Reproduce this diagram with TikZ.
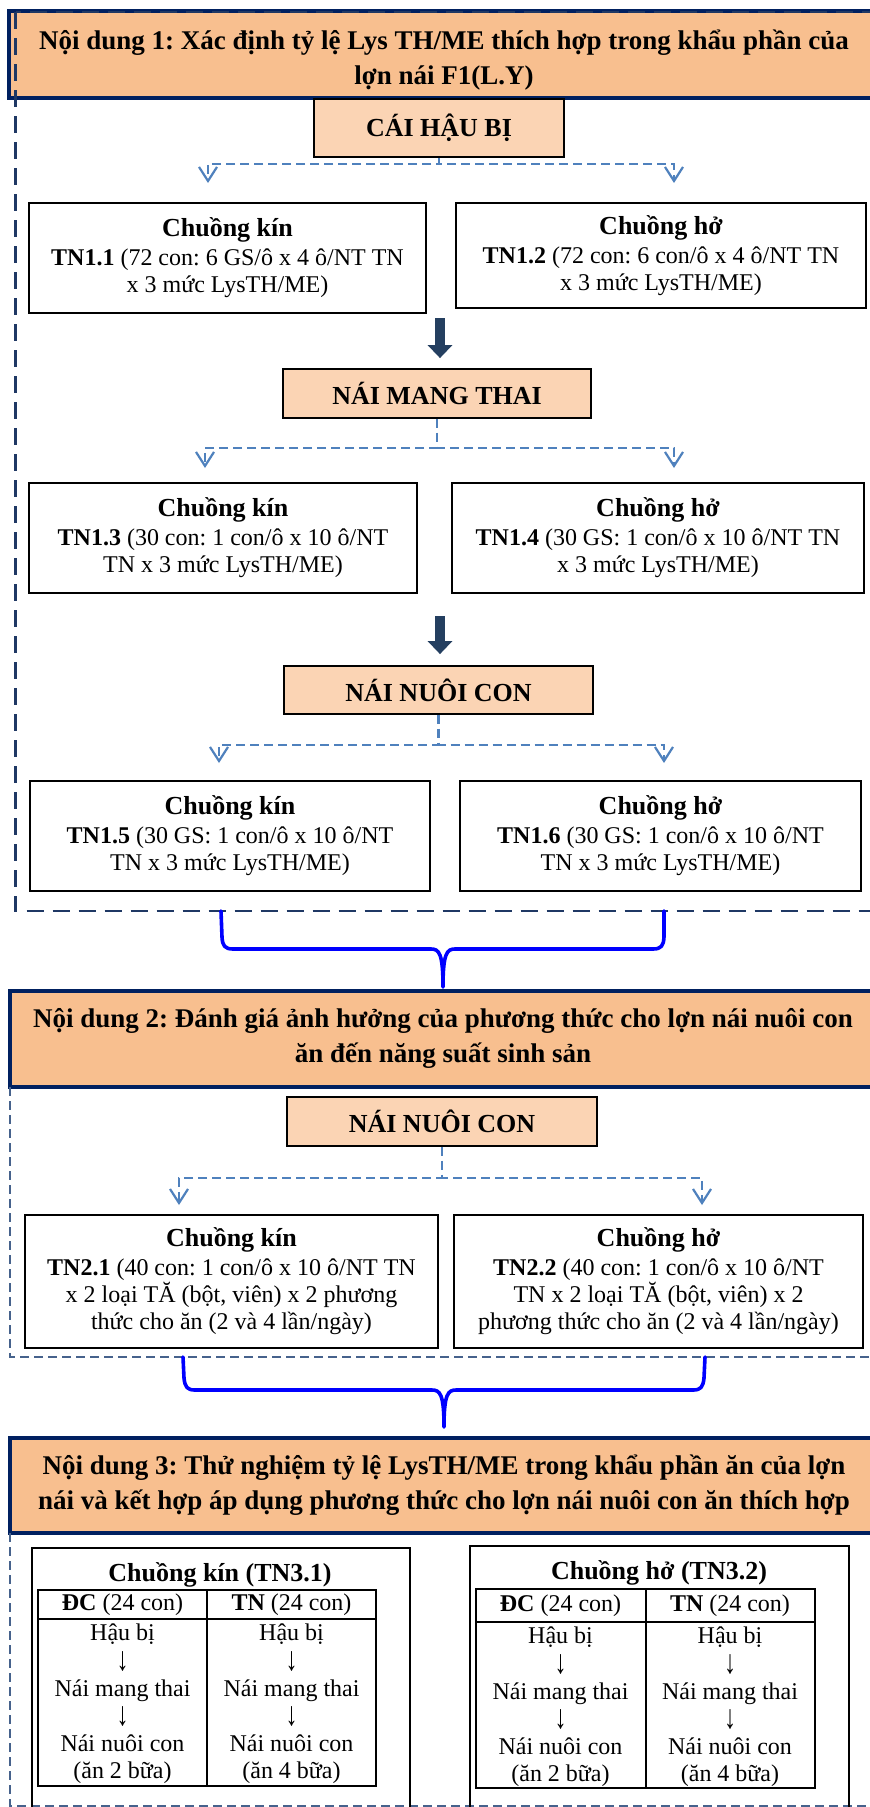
\documentclass[tikz,border=0pt]{standalone}
\usepackage{fontspec}
\usepackage{graphicx}
\setmainfont{Liberation Serif}
\usetikzlibrary{arrows.meta}
\definecolor{hdrfill}{RGB}{248,191,143}
\definecolor{subfill}{RGB}{251,212,180}
\definecolor{navy}{RGB}{0,32,96}
\definecolor{dashnavy}{RGB}{31,56,100}
\definecolor{thinnavy}{RGB}{70,98,140}
\definecolor{splitblue}{RGB}{79,129,189}
\definecolor{bigarrowcol}{RGB}{36,63,96}
\definecolor{bracecol}{RGB}{0,0,255}
\newcommand{\boxtitle}[1]{{\fontsize{26}{27}\selectfont\bfseries #1}}
\newcommand{\darr}{\smash{\raisebox{-0.08em}{\scalebox{1}[1.4]{↓}}}}
\frenchspacing
\begin{document}
\begin{tikzpicture}[x=1pt,y=-1pt,
  hdr/.style={draw=navy, line width=3.5pt, fill=hdrfill, inner sep=0pt},
  hdrtext/.style={font=\fontsize{27}{35}\selectfont\bfseries, align=center, inner sep=0pt},
  subbox/.style={draw=black, line width=1.8pt, fill=subfill, inner sep=0pt, font=\fontsize{26}{30}\selectfont\bfseries},
  tnbox/.style={draw=black, line width=1.8pt, fill=white, inner sep=0pt, align=center, font=\fontsize{24}{27}\selectfont},
  cell/.style={inner sep=0pt, align=center, font=\fontsize{24}{27.6}\selectfont},
  ttl/.style={inner sep=0pt, font=\fontsize{26}{30}\selectfont\bfseries},
  outerbox/.style={draw=black, line width=1.4pt, inner sep=0pt},
  tablebox/.style={draw=black, line width=2pt, inner sep=0pt},
  tabline/.style={draw=black, line width=2pt},
  dashone/.style={draw=dashnavy, line width=2.2pt, dash pattern=on 17pt off 9pt},
  dashtwo/.style={draw=thinnavy, line width=1.2pt, dash pattern=on 9pt off 5pt},
  split/.style={draw=splitblue, line width=2.2pt, dash pattern=on 9pt off 5pt, -{Straight Barb[length=14pt,width=18pt]}},
  bigarrow/.style={draw=bigarrowcol, line width=10pt, -{Triangle[length=13pt,width=24pt]}},
  bracestyle/.style={draw=bracecol, line width=3.6pt, line join=round, line cap=round}]
\useasboundingbox (0,0) rectangle (870,1807);
\fill[white] (0,0) rectangle (870,1807);

% ---------- Section 1 ----------
\node[hdr, minimum width=871, minimum height=87] (h1) at (444.5,54.5) {};
\node[hdrtext] (h1t) at (444,60) {Nội dung 1: Xác định tỷ lệ Lys TH/ME thích hợp trong khẩu phần của\\lợn nái F1(L.Y)};
\draw[dashone] (15.5,12) rectangle (900,911);

\node[subbox, minimum width=250, minimum height=58] (cahb) at (439,128) {CÁI HẬU BỊ};
\node[tnbox, minimum width=397, minimum height=110] (tn11) at (227.5,258) {\boxtitle{Chuồng kín}\\[2pt]\textbf{TN1.1} (72 con: 6 GS/ô x 4 ô/NT TN\\x 3 mức LysTH/ME)};
\node[tnbox, minimum width=410, minimum height=105] (tn12) at (661,255.5) {\boxtitle{Chuồng hở}\\[2pt]\textbf{TN1.2} (72 con: 6 con/ô x 4 ô/NT TN\\x 3 mức LysTH/ME)};
\coordinate (a11) at (208,183);
\coordinate (a12) at (674,183);
\draw[split] (cahb.south) -- ++(0,6) -| (a11);
\draw[split] (cahb.south) -- ++(0,6) -| (a12);

\node[subbox, minimum width=308, minimum height=49] (nmt) at (437,393.5) {NÁI MANG THAI};
\coordinate (b1) at (440,318);
\draw[bigarrow, shorten >=10pt] (b1) -- (b1 |- nmt.north);

\node[tnbox, minimum width=388, minimum height=110] (tn13) at (223,538) {\boxtitle{Chuồng kín}\\[2pt]\textbf{TN1.3} (30 con: 1 con/ô x 10 ô/NT\\TN x 3 mức LysTH/ME)};
\node[tnbox, minimum width=412, minimum height=110] (tn14) at (658,538) {\boxtitle{Chuồng hở}\\[2pt]\textbf{TN1.4} (30 GS: 1 con/ô x 10 ô/NT TN\\x 3 mức LysTH/ME)};
\coordinate (a13) at (205,468);
\coordinate (a14) at (674,468);
\draw[split] (nmt.south) -- ++(0,29) -| (a13);
\draw[split] (nmt.south) -- ++(0,29) -| (a14);

\node[subbox, minimum width=309, minimum height=48] (nnc) at (438.5,690) {NÁI NUÔI CON};
\coordinate (b2) at (440,616);
\draw[bigarrow, shorten >=11pt] (b2) -- (b2 |- nnc.north);

\node[tnbox, minimum width=400, minimum height=110] (tn15) at (230,836) {\boxtitle{Chuồng kín}\\[2pt]\textbf{TN1.5} (30 GS: 1 con/ô x 10 ô/NT\\TN x 3 mức LysTH/ME)};
\node[tnbox, minimum width=401, minimum height=110] (tn16) at (660.5,836) {\boxtitle{Chuồng hở}\\[2pt]\textbf{TN1.6} (30 GS: 1 con/ô x 10 ô/NT\\TN x 3 mức LysTH/ME)};
\coordinate (a15) at (219,763);
\coordinate (a16) at (664,763);
\draw[split] (nnc.south) -- ++(0,30) -| (a15);
\draw[split] (nnc.south) -- ++(0,30) -| (a16);

% brace 1
\coordinate (br1l) at (221,911);
\coordinate (br1r) at (664,911);
\coordinate (br1t) at (443,987);
\draw[bracestyle] (br1l) -- (222,937) .. controls (222.5,946) and (225,949) .. (233,949) -- (431,949) .. controls (439,949) and (443,953) .. (br1t) .. controls (443,953) and (447,949) .. (455,949) -- (653,949) .. controls (661,949) and (663.5,946) .. (664,937) -- (br1r);

% ---------- Section 2 ----------
\node[hdr, minimum width=870, minimum height=96] (h2) at (445,1039) {};
\node[hdrtext] (h2t) at (443,1038) {Nội dung 2: Đánh giá ảnh hưởng của phương thức cho lợn nái nuôi con\\ăn đến năng suất sinh sản};
\draw[dashtwo] (10,1087) -- (10,1357) -- (900,1357);

\node[subbox, minimum width=310, minimum height=49] (nnc2) at (442,1121.5) {NÁI NUÔI CON};
\node[tnbox, minimum width=413, minimum height=133] (tn21) at (231.5,1281.5) {\boxtitle{Chuồng kín}\\[2pt]\textbf{TN2.1} (40 con: 1 con/ô x 10 ô/NT TN\\x 2 loại TĂ (bột, viên) x 2 phương\\thức cho ăn (2 và 4 lần/ngày)};
\node[tnbox, minimum width=409, minimum height=133] (tn22) at (658.5,1281.5) {\boxtitle{Chuồng hở}\\[2pt]\textbf{TN2.2} (40 con: 1 con/ô x 10 ô/NT\\TN x 2 loại TĂ (bột, viên) x 2\\phương thức cho ăn (2 và 4 lần/ngày)};
\coordinate (a21) at (179,1205);
\coordinate (a22) at (702,1205);
\draw[split] (nnc2.south) -- ++(0,31) -| (a21);
\draw[split] (nnc2.south) -- ++(0,31) -| (a22);

% brace 2
\coordinate (br2l) at (183,1357);
\coordinate (br2r) at (705,1357);
\coordinate (br2t) at (444,1427);
\draw[bracestyle] (br2l) -- (184,1378) .. controls (185,1387) and (187,1390) .. (195,1390) -- (432,1390) .. controls (440,1390) and (444,1394) .. (br2t) .. controls (444,1394) and (448,1390) .. (456,1390) -- (693,1390) .. controls (701,1390) and (703,1387) .. (704,1378) -- (br2r);

% ---------- Section 3 ----------
\node[hdr, minimum width=870, minimum height=95] (h3) at (445,1485.5) {};
\node[hdrtext] (h3t) at (444,1485.5) {Nội dung 3: Thử nghiệm tỷ lệ LysTH/ME trong khẩu phần ăn của lợn\\nái và kết hợp áp dụng phương thức cho lợn nái nuôi con ăn thích hợp};
\draw[dashtwo] (10,1533) -- (10,1806) -- (900,1806);

% TN3.1
\node[outerbox, minimum width=378, minimum height=282] (o31) at (221,1689) {};
\node[ttl] (t31) at (220,1575) {Chuồng kín (TN3.1)};
\node[tablebox, minimum width=338, minimum height=196] (tab1) at (207,1688) {};
\draw[tabline] (tab1.north) -- (tab1.south);
\draw[tabline] (tab1.west |- 0,1619) -- (tab1.east |- 0,1619);
\node[cell] (c11) at (122.5,1604.5) {\textbf{ĐC} (24 con)};
\node[cell] (c12) at (291.5,1604.5) {\textbf{TN} (24 con)};
\node[cell] (c13) at (122.5,1704) {Hậu bị\\\darr\\Nái mang thai\\\darr\\Nái nuôi con\\(ăn 2 bữa)};
\node[cell] (c14) at (291.5,1704) {Hậu bị\\\darr\\Nái mang thai\\\darr\\Nái nuôi con\\(ăn 4 bữa)};

% TN3.2
\node[outerbox, minimum width=379, minimum height=284] (o32) at (659.5,1688) {};
\node[ttl] (t32) at (659,1573) {Chuồng hở (TN3.2)};
\node[tablebox, minimum width=339, minimum height=199] (tab2) at (645.5,1688.5) {};
\draw[tabline] (tab2.north) -- (tab2.south);
\draw[tabline] (tab2.west |- 0,1622) -- (tab2.east |- 0,1622);
\node[cell] (c21) at (560.5,1605.5) {\textbf{ĐC} (24 con)};
\node[cell] (c22) at (730,1605.5) {\textbf{TN} (24 con)};
\node[cell] (c23) at (560.5,1707) {Hậu bị\\\darr\\Nái mang thai\\\darr\\Nái nuôi con\\(ăn 2 bữa)};
\node[cell] (c24) at (730,1707) {Hậu bị\\\darr\\Nái mang thai\\\darr\\Nái nuôi con\\(ăn 4 bữa)};
\end{tikzpicture}
\end{document}
